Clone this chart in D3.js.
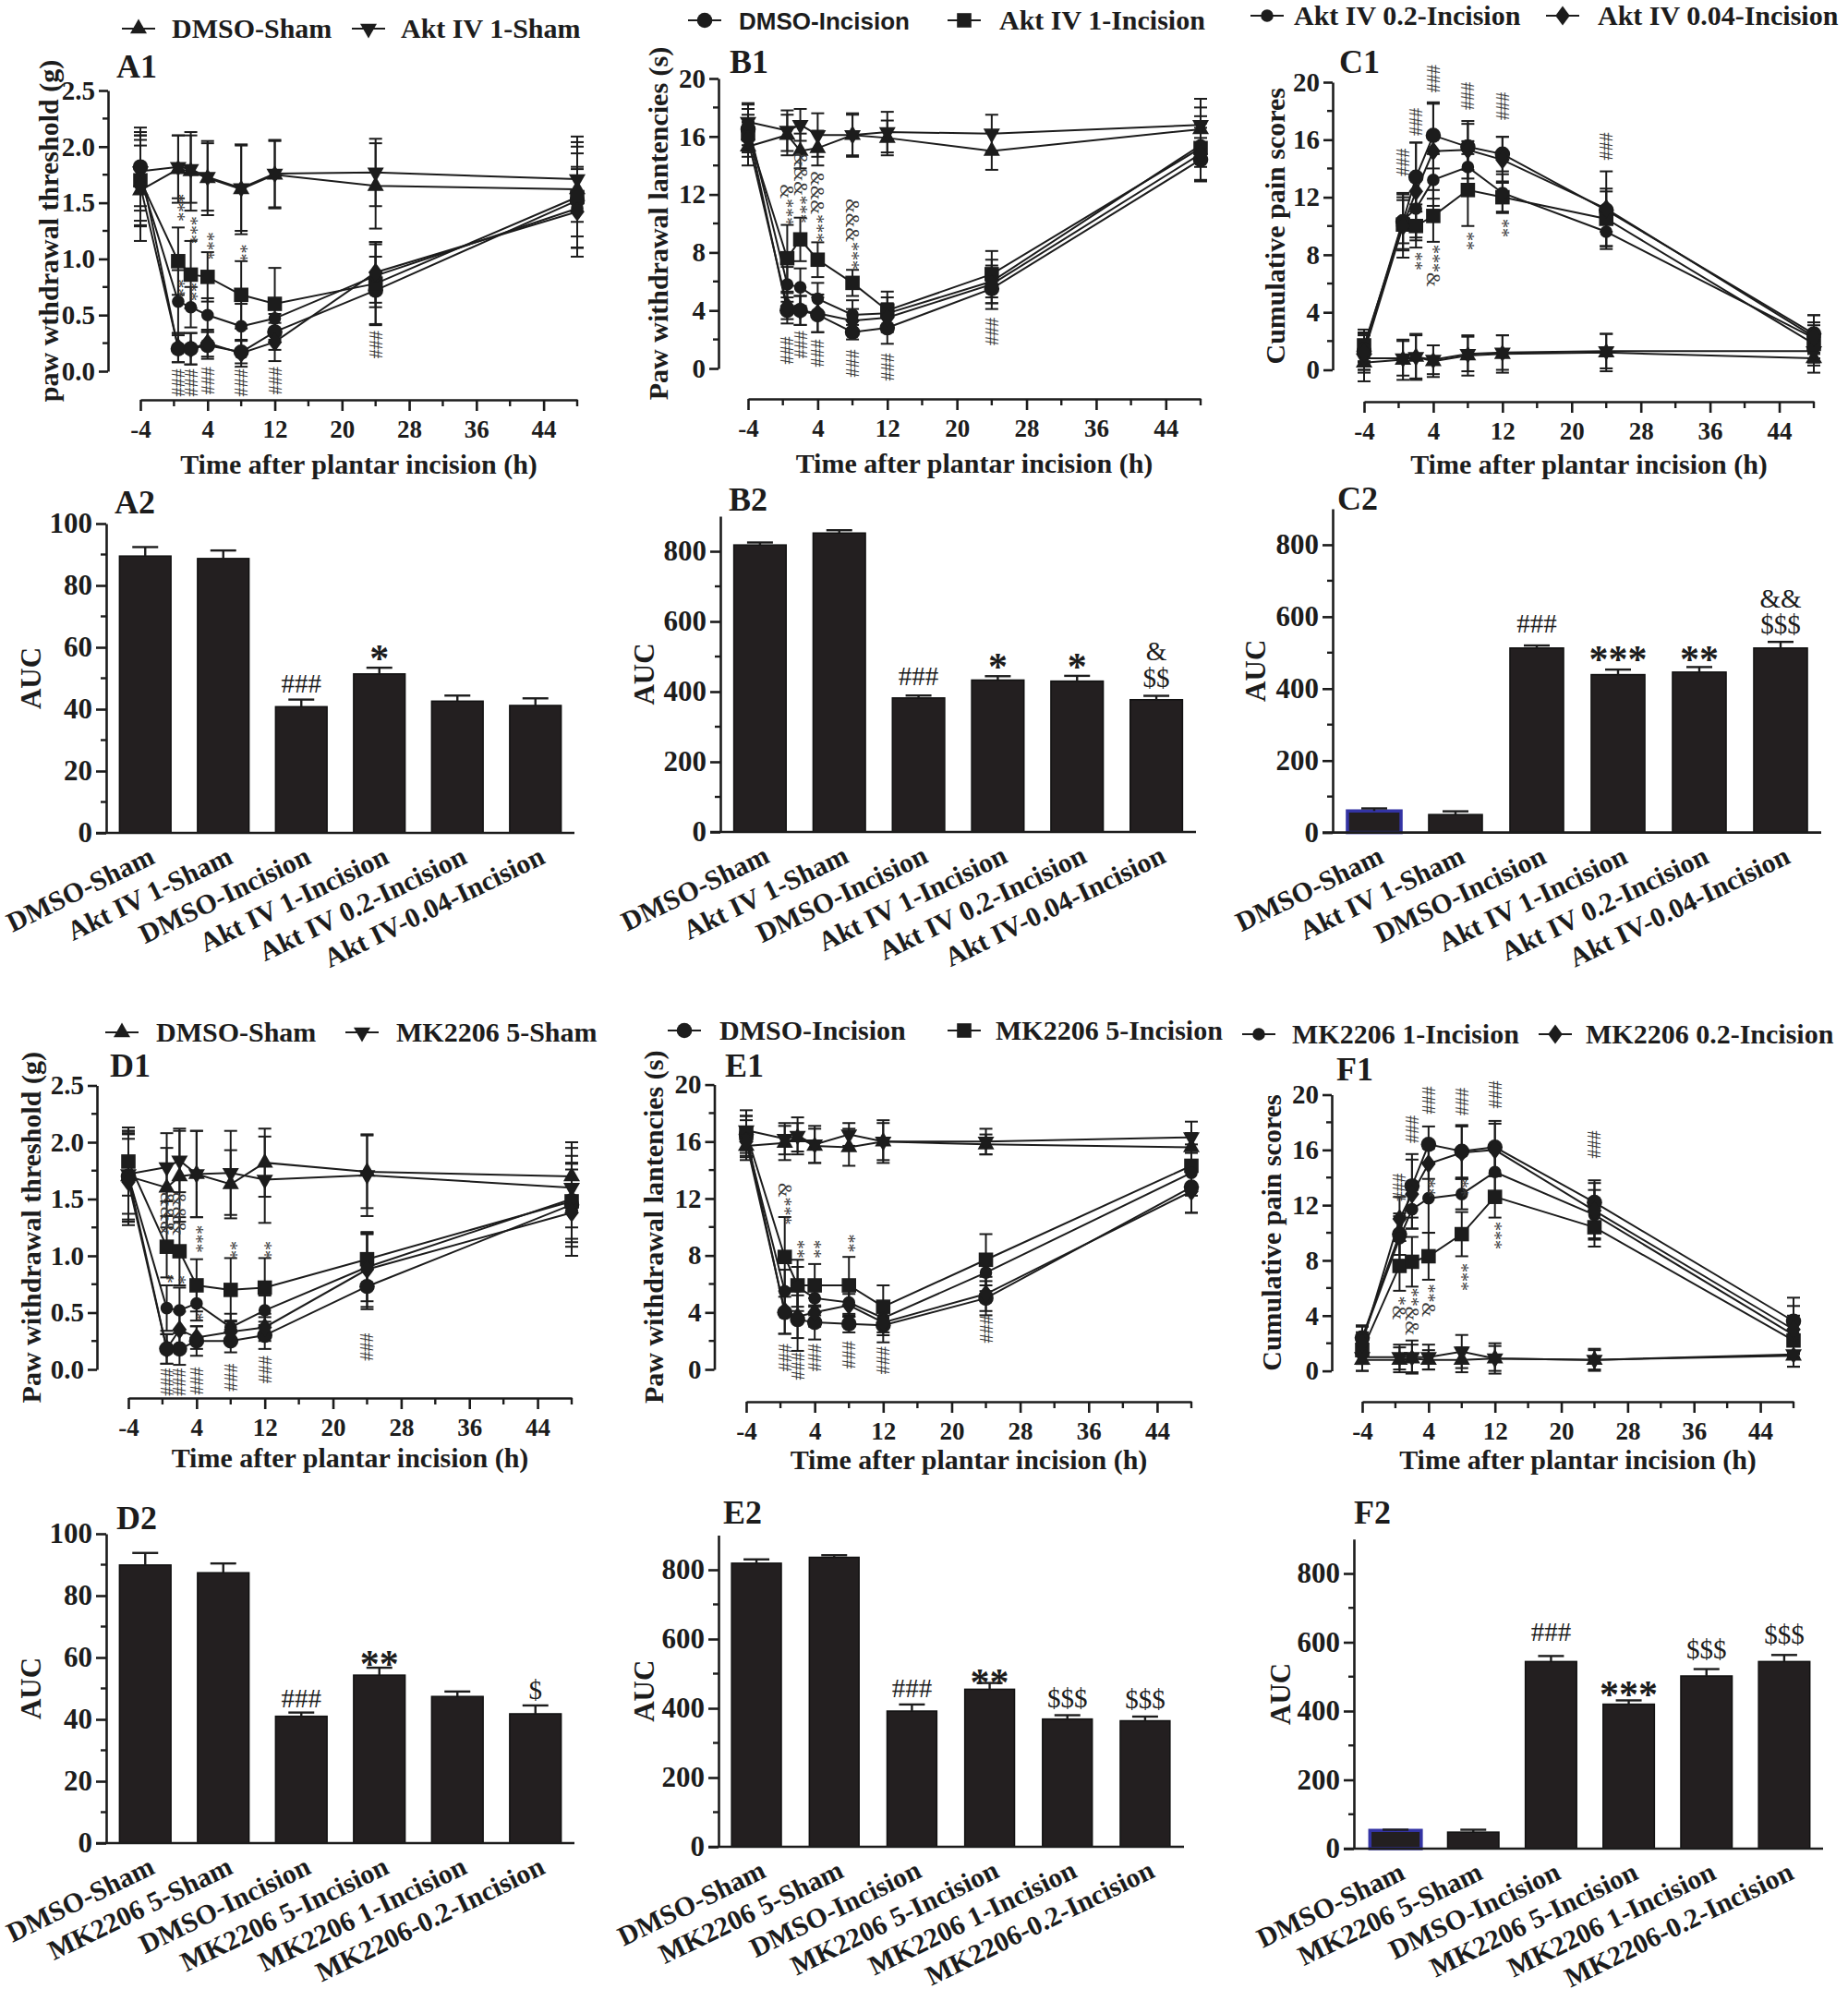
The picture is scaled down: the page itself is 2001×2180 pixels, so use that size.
<!DOCTYPE html>
<html><head><meta charset="utf-8">
<script src="https://cdn.jsdelivr.net/npm/d3@7"></script>
<style>body{margin:0;background:#fff}</style>
</head><body>
<svg id="fig" width="2001" height="2180" xmlns="http://www.w3.org/2000/svg"></svg>
<script>
// ---------------- DATA ----------------
const times = [-4, 0.5, 2, 4, 8, 12, 24, 48];
const xTickMajor = [-4, 4, 12, 20, 28, 36, 44];
const xTickMinor = [0, 8, 16, 24, 32, 40, 48];

const aktSeries = ["DMSO-Sham", "Akt IV 1-Sham", "DMSO-Incision", "Akt IV 1-Incision", "Akt IV 0.2-Incision", "Akt IV 0.04-Incision"];
const mkSeries  = ["DMSO-Sham", "MK2206 5-Sham", "DMSO-Incision", "MK2206 5-Incision", "MK2206 1-Incision", "MK2206 0.2-Incision"];
const seriesSymbols = ["tri", "triDown", "circle", "square", "circleSmall", "diamond"];

const aktBarCats = ["DMSO-Sham", "Akt IV 1-Sham", "DMSO-Incision", "Akt IV 1-Incision", "Akt IV 0.2-Incision", "Akt IV-0.04-Incision"];
const mkBarCats  = ["DMSO-Sham", "MK2206 5-Sham", "DMSO-Incision", "MK2206 5-Incision", "MK2206 1-Incision", "MK2206-0.2-Incision"];

// A1: paw withdrawal threshold (g)
const A1_mean = [
  [1.61, 1.80, 1.78, 1.72, 1.62, 1.75, 1.65, 1.62],
  [1.78, 1.82, 1.80, 1.73, 1.63, 1.76, 1.77, 1.71],
  [1.82, 0.20, 0.20, 0.23, 0.17, 0.35, 0.72, 1.52],
  [1.70, 0.98, 0.86, 0.84, 0.68, 0.60, 0.78, 1.55],
  [1.72, 0.62, 0.57, 0.50, 0.40, 0.47, 0.85, 1.45],
  [1.65, 0.21, 0.20, 0.25, 0.16, 0.26, 0.88, 1.42]
];
const A1_err = [
  [0.45, 0.30, 0.35, 0.33, 0.40, 0.30, 0.38, 0.42],
  [0.35, 0.28, 0.30, 0.30, 0.38, 0.30, 0.30, 0.38],
  [0.35, 0.12, 0.14, 0.12, 0.10, 0.16, 0.30, 0.42],
  [0.40, 0.30, 0.30, 0.22, 0.30, 0.32, 0.37, 0.45],
  [0.38, 0.28, 0.18, 0.15, 0.20, 0.15, 0.28, 0.35],
  [0.36, 0.13, 0.14, 0.12, 0.12, 0.17, 0.27, 0.40]
];
const A1_marks = [
  {t: 0.5, v: 0.02, s: "###"}, {t: 2, v: 0.02, s: "###"}, {t: 4, v: 0.04, s: "###"},
  {t: 8, v: 0.02, s: "###"}, {t: 12, v: 0.04, s: "###"}, {t: 24, v: 0.36, s: "###"},
  {t: 0.5, v: 1.58, s: "***"}, {t: 0.5, v: 0.82, s: "**"}, {t: 2, v: 1.38, s: "***"},
  {t: 2, v: 0.79, s: "**"}, {t: 4, v: 1.24, s: "***"}, {t: 8, v: 1.13, s: "**"}
];

// B1: paw withdrawal latencies (s)
const B1_mean = [
  [15.3, 16.1, 15.0, 15.2, 16.1, 15.9, 15.0, 16.5],
  [17.0, 16.4, 16.8, 16.1, 16.1, 16.3, 16.2, 16.8],
  [16.5, 4.0, 4.0, 3.7, 2.5, 2.8, 5.5, 14.4],
  [16.2, 7.6, 8.9, 7.5, 5.9, 4.0, 6.5, 15.2],
  [16.8, 5.8, 5.6, 4.8, 3.7, 3.8, 6.0, 15.4],
  [15.8, 4.3, 4.0, 3.8, 3.3, 3.5, 5.8, 14.8]
];
const B1_err = [
  [1.3, 1.4, 1.2, 1.2, 1.4, 1.2, 1.3, 1.5],
  [1.3, 1.4, 1.1, 1.5, 1.5, 1.4, 1.3, 1.8],
  [1.4, 0.9, 1.0, 1.2, 0.5, 1.1, 1.4, 1.5],
  [1.3, 2.3, 1.5, 1.2, 0.9, 1.3, 1.6, 2.2],
  [1.4, 1.2, 1.3, 1.1, 1.0, 1.1, 1.5, 1.5],
  [1.2, 0.9, 1.0, 1.3, 0.8, 1.0, 1.3, 1.8]
];
const B1_marks = [
  {t: 0.5, v: 2.2, s: "###"}, {t: 2, v: 2.6, s: "###"}, {t: 4, v: 2.0, s: "###"},
  {t: 8, v: 1.3, s: "###"}, {t: 12, v: 1.05, s: "###"}, {t: 24, v: 3.5, s: "###"},
  {t: 0.5, v: 12.7, s: "&***"}, {t: 2, v: 14.9, s: "&&&***"}, {t: 4, v: 13.6, s: "&&&***"},
  {t: 8, v: 11.7, s: "&&&***"}
];

// C1: cumulative pain scores
const C1_mean = [
  [0.5, 0.7, 0.9, 0.6, 1.0, 1.1, 1.2, 0.8],
  [0.8, 0.8, 0.9, 0.7, 1.1, 1.2, 1.3, 1.3],
  [1.3, 10.3, 13.4, 16.3, 15.5, 15.0, 11.1, 2.5],
  [1.7, 10.1, 10.0, 10.7, 12.5, 12.0, 10.5, 1.8],
  [1.5, 10.4, 11.2, 13.2, 14.1, 12.3, 9.6, 2.2],
  [1.2, 10.0, 12.4, 15.2, 15.3, 14.6, 11.2, 2.3]
];
const C1_err = [
  [1.3, 1.4, 1.5, 1.1, 1.4, 1.3, 1.3, 1.0],
  [1.0, 1.2, 1.6, 1.0, 1.2, 1.2, 1.2, 1.0],
  [1.3, 2.0, 2.4, 2.3, 1.6, 1.2, 1.5, 1.3],
  [1.1, 1.7, 1.5, 1.8, 2.5, 1.1, 1.9, 1.3],
  [1.0, 1.6, 2.0, 1.8, 1.8, 1.3, 1.2, 1.1],
  [1.2, 2.2, 3.4, 3.3, 2.0, 1.6, 2.6, 1.5]
];
const C1_marks = [
  {t: 0.5, v: 15.4, s: "###"}, {t: 2, v: 18.2, s: "###"}, {t: 4, v: 21.2, s: "###"},
  {t: 8, v: 20.0, s: "###"}, {t: 12, v: 19.3, s: "###"}, {t: 24, v: 16.5, s: "###"},
  {t: 2, v: 8.2, s: "**"}, {t: 4, v: 8.7, s: "***&"}, {t: 8, v: 9.6, s: "**"}, {t: 12, v: 10.5, s: "**"}
];

// D1
const D1_mean = [
  [1.70, 1.60, 1.70, 1.72, 1.63, 1.82, 1.74, 1.70],
  [1.72, 1.78, 1.84, 1.72, 1.73, 1.67, 1.71, 1.60],
  [1.70, 0.18, 0.18, 0.25, 0.25, 0.30, 0.73, 1.45],
  [1.83, 1.08, 1.04, 0.74, 0.70, 0.72, 0.97, 1.48],
  [1.70, 0.54, 0.52, 0.58, 0.37, 0.52, 0.90, 1.50],
  [1.65, 0.18, 0.35, 0.28, 0.33, 0.37, 0.88, 1.38]
];
const D1_err = [
  [0.40, 0.35, 0.40, 0.38, 0.30, 0.30, 0.32, 0.30],
  [0.35, 0.30, 0.28, 0.38, 0.37, 0.38, 0.36, 0.35],
  [0.40, 0.13, 0.14, 0.13, 0.10, 0.12, 0.20, 0.37],
  [0.30, 0.27, 0.30, 0.23, 0.28, 0.26, 0.22, 0.33],
  [0.38, 0.20, 0.20, 0.15, 0.12, 0.13, 0.30, 0.38],
  [0.38, 0.13, 0.16, 0.10, 0.10, 0.12, 0.33, 0.38]
];
const D1_marks = [
  {t: 0.5, v: 0.01, s: "###"}, {t: 2, v: 0.01, s: "###"}, {t: 4, v: 0.02, s: "###"},
  {t: 8, v: 0.05, s: "###"}, {t: 12, v: 0.12, s: "###"}, {t: 24, v: 0.32, s: "###"},
  {t: 0.5, v: 1.56, s: "&&&"}, {t: 0.5, v: 0.84, s: "*"}, {t: 2, v: 1.56, s: "&&&"},
  {t: 2, v: 0.83, s: "*"}, {t: 4, v: 1.27, s: "***"}, {t: 4, v: 0.50, s: "*"},
  {t: 8, v: 1.13, s: "**"}, {t: 12, v: 1.13, s: "**"}
];

// E1
const E1_mean = [
  [15.7, 15.9, 16.3, 15.7, 15.6, 16.0, 15.8, 15.6],
  [16.8, 16.2, 16.4, 15.8, 16.5, 16.0, 16.0, 16.3],
  [16.5, 4.0, 3.5, 3.3, 3.2, 3.1, 5.0, 12.8],
  [16.6, 7.9, 5.9, 5.9, 5.9, 4.4, 7.7, 14.3],
  [16.2, 5.5, 5.8, 5.0, 4.7, 3.6, 6.8, 13.8],
  [16.0, 4.1, 3.7, 4.0, 4.5, 3.3, 5.3, 12.5]
];
const E1_err = [
  [1.0, 1.2, 1.0, 1.2, 1.3, 1.3, 0.7, 1.0],
  [1.4, 1.1, 1.3, 1.3, 0.8, 1.5, 0.9, 1.1],
  [1.3, 1.5, 2.2, 1.2, 0.6, 1.2, 1.2, 1.8],
  [1.2, 2.8, 1.8, 1.5, 2.0, 1.5, 1.8, 1.5],
  [1.3, 1.5, 1.4, 1.2, 1.0, 1.0, 1.3, 1.6],
  [1.0, 1.6, 1.5, 1.0, 0.8, 0.9, 1.2, 1.5]
];
const E1_marks = [
  {t: 0.5, v: 1.8, s: "###"}, {t: 2, v: 1.2, s: "###"}, {t: 4, v: 1.8, s: "###"},
  {t: 8, v: 2.0, s: "###"}, {t: 12, v: 1.6, s: "###"}, {t: 24, v: 3.8, s: "###"},
  {t: 0.5, v: 13.1, s: "&***"}, {t: 2, v: 9.1, s: "**"}, {t: 4, v: 9.1, s: "**"}, {t: 8, v: 9.5, s: "**"}
];

// F1
const F1_mean = [
  [0.8, 0.8, 0.9, 0.8, 0.8, 0.9, 0.8, 1.1],
  [1.0, 1.0, 1.0, 1.0, 1.4, 0.9, 0.8, 1.2],
  [2.4, 9.9, 13.4, 16.4, 15.9, 16.2, 12.2, 3.6],
  [1.5, 7.6, 7.9, 8.3, 9.9, 12.6, 10.4, 2.2],
  [2.3, 9.6, 11.7, 12.5, 12.8, 14.4, 11.3, 2.6],
  [2.0, 11.0, 12.8, 15.0, 15.8, 16.0, 11.6, 3.0]
];
const F1_err = [
  [0.8, 0.9, 1.0, 0.7, 0.9, 0.9, 0.7, 0.8],
  [1.0, 0.9, 1.2, 0.9, 1.2, 1.1, 0.8, 0.9],
  [0.9, 1.5, 2.3, 1.3, 1.9, 1.9, 1.6, 1.7],
  [1.0, 1.8, 1.8, 1.7, 1.6, 1.5, 1.4, 1.2],
  [0.9, 1.6, 1.4, 2.5, 1.1, 1.9, 1.8, 1.4],
  [0.8, 1.6, 2.5, 1.1, 1.9, 1.9, 2.0, 1.7]
];
const F1_marks = [
  {t: 0.5, v: 14.3, s: "###"}, {t: 2, v: 18.5, s: "###"}, {t: 4, v: 20.6, s: "###"},
  {t: 8, v: 20.5, s: "###"}, {t: 12, v: 21.0, s: "###"}, {t: 24, v: 17.4, s: "###"},
  {t: 0.5, v: 5.4, s: "*&"}, {t: 2, v: 6.0, s: "**&&"}, {t: 4, v: 6.3, s: "**&"},
  {t: 8, v: 7.8, s: "***"}, {t: 12, v: 10.8, s: "***"}, {t: 4, v: 13.9, s: "**"}, {t: 8, v: 13.9, s: "**"}
];

// AUC bars
const A2_mean = [89.5, 88.7, 40.8, 51.4, 42.6, 41.2];
const A2_err  = [2.9, 2.6, 2.3, 2.0, 1.8, 2.3];
const A2_marks = [{i: 2, v: 48.5, s: "###"}, {i: 3, v: 59.0, s: "*"}];

const B2_mean = [818, 852, 382, 433, 430, 377];
const B2_err  = [7, 8, 7, 11, 15, 11];
const B2_marks = [{i: 2, v: 447, s: "###"}, {i: 3, v: 496, s: "*"}, {i: 4, v: 496, s: "*"}, {i: 5, v: 518, s: "&"}, {i: 5, v: 440, s: "$$"}];

const C2_mean = [60, 50, 513, 439, 446, 513];
const C2_err  = [7, 9, 7, 14, 14, 17];
const C2_marks = [{i: 2, v: 582, s: "###"}, {i: 3, v: 506, s: "***"}, {i: 4, v: 506, s: "**"}, {i: 5, v: 652, s: "&&"}, {i: 5, v: 580, s: "$$$"}];

const D2_mean = [89.9, 87.4, 41.0, 54.3, 47.4, 41.8];
const D2_err  = [3.9, 3.0, 1.2, 2.4, 1.6, 2.7];
const D2_marks = [{i: 2, v: 47.0, s: "###"}, {i: 3, v: 60.5, s: "**"}, {i: 5, v: 49.8, s: "$"}];

const E2_mean = [819, 836, 392, 455, 369, 364];
const E2_err  = [11, 6, 19, 18, 11, 12];
const E2_marks = [{i: 2, v: 459, s: "###"}, {i: 3, v: 500, s: "**"}, {i: 4, v: 431, s: "$$$"}, {i: 5, v: 429, s: "$$$"}];

const F2_mean = [53, 48, 544, 420, 502, 544];
const F2_err  = [2, 7, 16, 11, 20, 19];
const F2_marks = [{i: 2, v: 632, s: "###"}, {i: 3, v: 474, s: "***"}, {i: 4, v: 582, s: "$$$"}, {i: 5, v: 625, s: "$$$"}];

// ---------------- STYLE / LAYOUT ----------------
const SERIF = "'Liberation Serif','Times New Roman',Times,serif";
const SANS = "'Liberation Sans',Arial,Helvetica,sans-serif";
const INK = "#1c1c1c";
const BAR = "#231f20";
const svg = d3.select("#fig");
svg.append("rect").attr("width", 2001).attr("height", 2180).attr("fill", "#fff");

function circlePath(r) { return `M${r},0A${r},${r} 0 1,1 ${-r},0A${r},${r} 0 1,1 ${r},0Z`; }
const SYM = {
  tri: "M0,-10.5L9,5.3L-9,5.3Z",
  triDown: "M0,10.5L9,-5.3L-9,-5.3Z",
  circle: circlePath(8.3),
  square: "M-7.8,-7.8H7.8V7.8H-7.8Z",
  circleSmall: circlePath(6.8),
  diamond: "M0,-10.5L7.8,0L0,10.5L-7.8,0Z"
};
const plainNum = d => String(d);

function styleAxis(sel, fontSize) {
  sel.select(".domain").attr("stroke", INK).attr("stroke-width", 2.6);
  sel.selectAll(".tick line").attr("stroke", INK).attr("stroke-width", 2.6);
  sel.selectAll(".tick text").attr("fill", INK).style("font-family", SERIF)
     .style("font-weight", "bold").style("font-size", fontSize + "px");
}

function legend(items) {
  items.forEach(it => {
    const g = svg.append("g");
    g.append("line").attr("x1", it.mx - 18).attr("x2", it.mx + 18).attr("y1", it.y).attr("y2", it.y)
      .attr("stroke", INK).attr("stroke-width", 2.2);
    g.append("path").attr("d", SYM[it.sym]).attr("transform", `translate(${it.mx},${it.y})`).attr("fill", INK);
    g.append("text").attr("x", it.tx).attr("y", it.y + 10).text(it.label)
      .style("font-family", it.sans ? SANS : SERIF).style("font-weight", "bold")
      .style("font-size", (it.sans ? 26 : 30) + "px").attr("fill", INK);
  });
}

function panelLabel(txt, x, y) {
  svg.append("text").attr("x", x).attr("y", y).text(txt).style("font-family", SERIF)
    .style("font-weight", "bold").style("font-size", "36px").attr("fill", INK);
}

function linePanel(c, means, errs, marks) {
  const g = svg.append("g");
  const x = d3.scaleLinear().domain([-4, 48]).range([c.x0, c.x1]);
  const y = d3.scaleLinear().domain([0, c.ymax]).range([c.yBot, c.yTop]);

  const ya = g.append("g").attr("transform", `translate(${c.yAxisX},0)`)
    .call(d3.axisLeft(y).tickValues(c.yMajor).tickFormat(c.fmt).tickSize(10).tickSizeOuter(0).tickPadding(4));
  styleAxis(ya, 29);
  ya.selectAll(".minor").data(c.yMinor).join("line").attr("class", "minor")
    .attr("x1", -6).attr("x2", 0).attr("y1", d => y(d)).attr("y2", d => y(d))
    .attr("stroke", INK).attr("stroke-width", 2.4);

  const xa = g.append("g").attr("transform", `translate(0,${c.xAxisY})`)
    .call(d3.axisBottom(x).tickValues(xTickMajor).tickFormat(plainNum).tickSize(12).tickSizeOuter(0));
  styleAxis(xa, 27);
  xa.selectAll(".tick text").attr("dy", null).attr("y", 41);
  xa.selectAll(".minor").data(xTickMinor).join("line").attr("class", "minor")
    .attr("x1", d => x(d)).attr("x2", d => x(d)).attr("y1", 0).attr("y2", 7)
    .attr("stroke", INK).attr("stroke-width", 2.4);

  g.append("text").attr("x", (c.x0 + c.x1) / 2).attr("y", c.xAxisY + c.titleDy).attr("text-anchor", "middle")
    .text("Time after plantar incision (h)").style("font-family", SERIF).style("font-weight", "bold")
    .style("font-size", "30px").attr("fill", INK);
  g.append("text").attr("transform", `translate(${c.yAxisX - c.yTitleDx},${(c.yTop + c.yBot) / 2}) rotate(-90)`)
    .attr("text-anchor", "middle").attr("dominant-baseline", "central").text(c.yTitle)
    .style("font-family", SERIF).style("font-weight", "bold").style("font-size", "30px").attr("fill", INK);

  const line = d3.line().x((d, i) => x(times[i])).y(d => y(d));
  means.forEach((m) => {
    g.append("path").attr("d", line(m)).attr("fill", "none").attr("stroke", INK).attr("stroke-width", 2);
  });
  means.forEach((m, s) => {
    m.forEach((v, i) => {
      const xx = x(times[i]), e = errs[s][i];
      const y1 = y(v - e), y2 = y(v + e);
      g.append("line").attr("x1", xx).attr("x2", xx).attr("y1", y1).attr("y2", y2).attr("stroke", INK).attr("stroke-width", 2);
      [y1, y2].forEach(yy => g.append("line").attr("x1", xx - 7).attr("x2", xx + 7).attr("y1", yy).attr("y2", yy)
        .attr("stroke", INK).attr("stroke-width", 2));
    });
  });
  means.forEach((m, s) => {
    g.selectAll(null).data(m).join("path").attr("d", SYM[seriesSymbols[s]])
      .attr("transform", (d, i) => `translate(${x(times[i])},${y(d)})`).attr("fill", INK);
  });
  marks.forEach(mk => {
    g.append("text").attr("transform", `translate(${x(mk.t)},${y(mk.v)}) rotate(90)`)
      .attr("text-anchor", "start").attr("dominant-baseline", "central")
      .text(mk.s).style("font-family", SERIF).style("font-size", "20px").attr("fill", "#3a3a3a");
  });
}

function barPanel(c, cats, means, errs, marks) {
  const g = svg.append("g");
  const x = d3.scaleBand().domain(cats).range([c.bx0, c.bx1]).paddingInner(c.pad).paddingOuter(c.pad / 2);
  const y = d3.scaleLinear().domain([0, c.ymax]).range([c.y0, c.yTop]);
  const bw = x.bandwidth();

  g.selectAll("rect.bar").data(cats).join("rect").attr("class", "bar")
    .attr("x", d => x(d)).attr("y", (d, i) => y(means[i])).attr("width", bw)
    .attr("height", (d, i) => y(0) - y(means[i])).attr("fill", BAR)
    .attr("stroke", (d, i) => (c.blueFirst && i === 0) ? "#3434a4" : "#111")
    .attr("stroke-width", (d, i) => (c.blueFirst && i === 0) ? 3.5 : 1.5);
  cats.forEach((d, i) => {
    const cx = x(d) + bw / 2;
    g.append("line").attr("x1", cx).attr("x2", cx).attr("y1", y(means[i])).attr("y2", y(means[i] + errs[i]))
      .attr("stroke", INK).attr("stroke-width", 2.4);
    g.append("line").attr("x1", cx - 14).attr("x2", cx + 14).attr("y1", y(means[i] + errs[i])).attr("y2", y(means[i] + errs[i]))
      .attr("stroke", INK).attr("stroke-width", 2.4);
  });

  const ya = g.append("g").attr("transform", `translate(${c.yAxisX},0)`)
    .call(d3.axisLeft(y).tickValues(c.yMajor).tickFormat(plainNum).tickSize(11).tickSizeOuter(0).tickPadding(4));
  styleAxis(ya, 31);
  ya.selectAll(".minor").data(c.yMinor).join("line").attr("class", "minor")
    .attr("x1", -6).attr("x2", 0).attr("y1", d => y(d)).attr("y2", d => y(d))
    .attr("stroke", INK).attr("stroke-width", 2.4);

  const xa = g.append("g").attr("transform", `translate(0,${c.y0})`)
    .call(d3.axisBottom(x).tickSize(0).tickSizeOuter(0).tickFormat(""));
  xa.select(".domain").attr("stroke", INK).attr("stroke-width", 2.6).attr("d", `M${c.yAxisX - 11},0H${c.bx1}`);

  g.selectAll("text.cat").data(cats).join("text").attr("class", "cat")
    .attr("transform", d => `translate(${x(d) + bw / 2 + c.labDx},${c.y0 + c.labDy}) rotate(-26)`)
    .attr("text-anchor", "end").text(d => d).style("font-family", SERIF).style("font-weight", "bold")
    .style("font-size", "30px").attr("fill", INK);

  g.append("text").attr("transform", `translate(${c.yAxisX - c.yTitleDx},${(c.yTop + c.y0) / 2}) rotate(-90)`)
    .attr("text-anchor", "middle").attr("dominant-baseline", "central").text("AUC")
    .style("font-family", SERIF).style("font-weight", "bold").style("font-size", "31px").attr("fill", INK);

  marks.forEach(mk => {
    const star = mk.s.indexOf("*") >= 0;
    const fs = star ? 42 : 29;
    g.append("text").attr("x", x(cats[mk.i]) + bw / 2).attr("y", y(mk.v) + (star ? 0.55 : 0.36) * fs)
      .attr("text-anchor", "middle").text(mk.s).style("font-family", SERIF)
      .style("font-weight", star ? "bold" : "normal").style("font-size", fs + "px").attr("fill", INK);
  });
}

// ---------------- PANELS ----------------
const yG = [0, 0.5, 1, 1.5, 2, 2.5], yGm = [0.25, 0.75, 1.25, 1.75, 2.25];
const yS = [0, 4, 8, 12, 16, 20], ySm = [2, 6, 10, 14, 18];
const f1 = d3.format(".1f"), f0 = plainNum;

// Row 1
legend([
  {mx: 150, tx: 186, y: 31, sym: "tri", label: aktSeries[0]},
  {mx: 399, tx: 434, y: 31, sym: "triDown", label: aktSeries[1]},
  {mx: 763, tx: 800, y: 22, sym: "circle", label: aktSeries[2], sans: true},
  {mx: 1044, tx: 1082, y: 22, sym: "square", label: aktSeries[3]},
  {mx: 1372, tx: 1401, y: 17, sym: "circleSmall", label: aktSeries[4]},
  {mx: 1692, tx: 1730, y: 17, sym: "diamond", label: aktSeries[5]}
]);
panelLabel("A1", 126, 84); panelLabel("B1", 790, 79); panelLabel("C1", 1450, 79);
linePanel({yAxisX: 117, x0: 152, x1: 625, yTop: 98, yBot: 402, xAxisY: 433, ymax: 2.5, yMajor: yG, yMinor: yGm, fmt: f1,
  titleDy: 80, yTitleDx: 65, yTitle: "paw wthdrawal threshold (g)"}, A1_mean, A1_err, A1_marks);
linePanel({yAxisX: 778, x0: 810, x1: 1300, yTop: 85, yBot: 399, xAxisY: 432, ymax: 20, yMajor: yS, yMinor: ySm, fmt: f0,
  titleDy: 80, yTitleDx: 66, yTitle: "Paw withdrawal lantencies (s)"}, B1_mean, B1_err, B1_marks);
linePanel({yAxisX: 1443, x0: 1477, x1: 1964, yTop: 89, yBot: 400.5, xAxisY: 435, ymax: 20, yMajor: yS, yMinor: ySm, fmt: f0,
  titleDy: 78, yTitleDx: 63, yTitle: "Cumulative pain scores"}, C1_mean, C1_err, C1_marks);

// Row 2
panelLabel("A2", 124, 556); panelLabel("B2", 789, 553); panelLabel("C2", 1448, 552);
barPanel({yAxisX: 115, bx0: 115, bx1: 622, pad: 0.34, y0: 902, yTop: 567, ymax: 100,
  yMajor: [0, 20, 40, 60, 80, 100], yMinor: [10, 30, 50, 70, 90], labDx: 12, labDy: 32, yTitleDx: 82}, aktBarCats, A2_mean, A2_err, A2_marks);
barPanel({yAxisX: 780, bx0: 780, bx1: 1295, pad: 0.34, y0: 901, yTop: 559, ymax: 900,
  yMajor: [0, 200, 400, 600, 800], yMinor: [100, 300, 500, 700], labDx: 12, labDy: 32, yTitleDx: 83}, aktBarCats, B2_mean, B2_err, B2_marks);
barPanel({yAxisX: 1443, bx0: 1444, bx1: 1972, pad: 0.34, y0: 901.6, yTop: 551, ymax: 900, blueFirst: true,
  yMajor: [0, 200, 400, 600, 800], yMinor: [100, 300, 500, 700], labDx: 12, labDy: 32, yTitleDx: 84}, aktBarCats, C2_mean, C2_err, C2_marks);

// Row 3
legend([
  {mx: 132, tx: 169, y: 1118, sym: "tri", label: mkSeries[0]},
  {mx: 392, tx: 429, y: 1118, sym: "triDown", label: mkSeries[1]},
  {mx: 741, tx: 779, y: 1116, sym: "circle", label: mkSeries[2]},
  {mx: 1044, tx: 1078, y: 1116, sym: "square", label: mkSeries[3]},
  {mx: 1363, tx: 1399, y: 1120, sym: "circleSmall", label: mkSeries[4]},
  {mx: 1684, tx: 1717, y: 1120, sym: "diamond", label: mkSeries[5]}
]);
panelLabel("D1", 119, 1166); panelLabel("E1", 785, 1166); panelLabel("F1", 1447, 1170);
linePanel({yAxisX: 105, x0: 139, x1: 619, yTop: 1175.5, yBot: 1483, xAxisY: 1514, ymax: 2.5, yMajor: yG, yMinor: yGm, fmt: f1,
  titleDy: 75, yTitleDx: 72, yTitle: "Paw withdrawal threshold (g)"}, D1_mean, D1_err, D1_marks);
linePanel({yAxisX: 773.5, x0: 808, x1: 1290, yTop: 1174.6, yBot: 1483, xAxisY: 1518, ymax: 20, yMajor: yS, yMinor: ySm, fmt: f0,
  titleDy: 73, yTitleDx: 66, yTitle: "Paw withdrawal lantencies (s)"}, E1_mean, E1_err, E1_marks);
linePanel({yAxisX: 1442, x0: 1475, x1: 1942, yTop: 1185.5, yBot: 1484.6, xAxisY: 1518, ymax: 20, yMajor: yS, yMinor: ySm, fmt: f0,
  titleDy: 73, yTitleDx: 66, yTitle: "Cumulative pain scores"}, F1_mean, F1_err, F1_marks);

// Row 4
panelLabel("D2", 126, 1656); panelLabel("E2", 783, 1650); panelLabel("F2", 1466, 1650);
barPanel({yAxisX: 115, bx0: 115, bx1: 622, pad: 0.34, y0: 1996, yTop: 1661, ymax: 100,
  yMajor: [0, 20, 40, 60, 80, 100], yMinor: [10, 30, 50, 70, 90], labDx: 12, labDy: 32, yTitleDx: 82}, mkBarCats, D2_mean, D2_err, D2_marks);
barPanel({yAxisX: 778, bx0: 777, bx1: 1282, pad: 0.36, y0: 2000, yTop: 1662.5, ymax: 900,
  yMajor: [0, 200, 400, 600, 800], yMinor: [100, 300, 500, 700], labDx: 12, labDy: 32, yTitleDx: 81}, mkBarCats, E2_mean, E2_err, E2_marks);
barPanel({yAxisX: 1466, bx0: 1469, bx1: 1974, pad: 0.34, y0: 2002, yTop: 1666.75, ymax: 900, blueFirst: true,
  yMajor: [0, 200, 400, 600, 800], yMinor: [100, 300, 500, 700], labDx: 12, labDy: 32, yTitleDx: 80}, mkBarCats, F2_mean, F2_err, F2_marks);
</script>
</body></html>
